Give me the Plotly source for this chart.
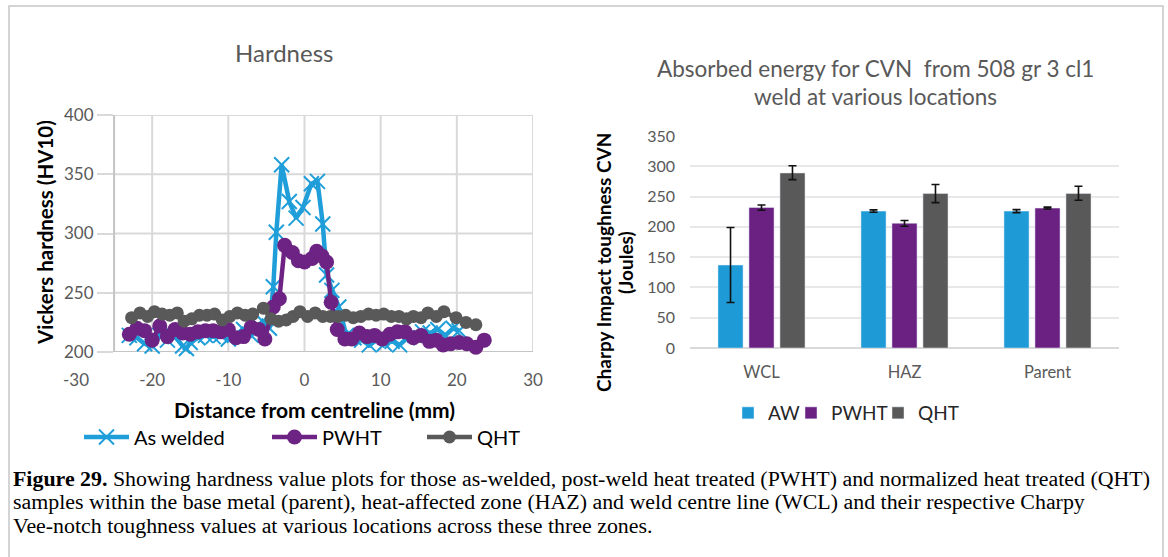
import plotly.graph_objects as go

W, H = 1168, 557

# ---------------- Data: hardness traverse ----------------
aw_x = [-23, -22, -21, -20, -19, -18, -17, -16, -15.5, -15, -14, -13, -12, -11, -10, -9, -8, -7, -6,
        -5.5, -4.6, -4.1, -3.7, -3.0, -2.0, -1.1, -0.2, 0.9, 1.7, 2.4, 2.9, 3.6, 4.5, 5.5, 6.5, 7.5,
        8.5, 9.5, 10.5, 11.5, 12.5, 13.5, 14.5, 15.5, 16.5, 17.5, 18.5, 19.5, 20.3]
aw_y = [214, 212, 207, 205, 214, 210, 213, 205, 203, 208, 212, 214, 213, 214, 211, 215, 219, 214, 222,
        226, 220, 255, 301, 358, 327, 313, 322, 342, 344, 308, 265, 252, 238, 214, 212, 210,
        206, 210, 207, 209, 206, 212, 214, 217, 216, 219, 214, 220, 218]

pw_x = [-23, -22, -21, -20, -19, -18, -17, -16, -15, -14, -13, -12, -11, -10, -9, -8, -7, -6, -5.2,
        -4.1, -3.3, -2.6, -1.6, -0.8, 0, 1.0, 1.6, 2.3, 2.9, 3.5, 4.3, 5.3, 6.2, 7.2, 8.2, 9.2, 10.2,
        11.2, 12.2, 13.2, 14.3, 15.3, 16.4, 17.3, 18.2, 19.2, 20.3, 21.3, 22.5, 23.6]
pw_y = [215, 220, 218, 210, 222, 213, 219, 216, 215, 217, 218, 218, 217, 219, 212, 213, 221, 219, 211,
        238, 245, 290, 284, 277, 276, 279, 285, 281, 276, 242, 219, 211, 211, 216, 213, 214, 211,
        215, 217, 217, 212, 214, 209, 210, 206, 207, 208, 207, 204, 210]

qht_x = [-22.7, -21.6, -20.6, -19.7, -18.7, -17.7, -16.7, -15.8, -14.8, -13.8, -12.8, -11.8, -10.8,
         -9.8, -8.8, -7.8, -6.8, -5.4, -4.4, -3.4, -2.4, -1.5, -0.6, 0.4, 1.4, 2.4, 3.4, 4.4, 5.4,
         6.4, 7.4, 8.4, 9.4, 10.4, 11.4, 12.4, 13.4, 14.3, 15.3, 16.2, 17.3, 18.3, 19.9, 21.2, 22.5]
qht_y = [229, 233, 230, 234, 232, 231, 233, 226, 228, 231, 231, 232, 227, 230, 233, 231, 232, 237,
         228, 226, 227, 230, 234, 230, 233, 230, 230, 230, 231, 229, 230, 232, 231, 232, 230, 230,
         228, 230, 229, 233, 230, 234, 229, 225, 223]

# ---------------- Data: Charpy CVN ----------------
locations = ["WCL", "HAZ", "Parent"]
cvn_aw = [137, 226, 226]
cvn_aw_plus = [62, 2, 2.5]
cvn_aw_minus = [62, 2, 2.5]
cvn_pwht = [232, 206, 231]
cvn_pwht_plus = [4, 4.5, 1.5]
cvn_pwht_minus = [4.5, 5, 1.5]
cvn_qht = [289, 255, 255]
cvn_qht_plus = [12, 15, 12]
cvn_qht_minus = [11, 15, 11]

# axis ticks
hx_ticks = [-30, -20, -10, 0, 10, 20, 30]
hx_ticktext = ["-30", "-20", "-10", "0", "10", "20", "30"]
hy_ticks = [200, 250, 300, 350, 400]
hx_axis_min = -25
cvn_ticks = [0, 50, 100, 150, 200, 250, 300, 350]

BLUE = "#1f9ed9"
PURPLE = "#6c2383"
GREY = "#595959"
GRID = "#d9d9d9"
FONT = "Lato"


def px(x):
    return x / W


def py(y):
    return 1 - y / H


fig = go.Figure()

fig.add_trace(go.Scatter(
    x=aw_x, y=aw_y, name="As welded", mode="lines+markers",
    line=dict(color=BLUE, width=4.5),
    marker=dict(symbol="x-thin", size=15, line=dict(width=2, color=BLUE), color=BLUE),
    cliponaxis=False, xaxis="x", yaxis="y", legend="legend", legendwidth=128))
fig.add_trace(go.Scatter(
    x=pw_x, y=pw_y, name="PWHT", mode="lines+markers",
    line=dict(color=PURPLE, width=4.5),
    marker=dict(symbol="circle", size=15, color=PURPLE),
    cliponaxis=False, xaxis="x", yaxis="y", legend="legend", legendwidth=95))
fig.add_trace(go.Scatter(
    x=qht_x, y=qht_y, name="QHT", mode="lines+markers",
    line=dict(color=GREY, width=4.5),
    marker=dict(symbol="circle", size=13, color=GREY),
    cliponaxis=False, xaxis="x", yaxis="y", legend="legend"))

err = dict(type="data", symmetric=False, color="#111111", thickness=1.6, width=4)
fig.add_trace(go.Bar(x=locations, y=cvn_aw, name="AW", marker_color="#1e9bd7",
                     error_y=dict(err, array=cvn_aw_plus, arrayminus=cvn_aw_minus),
                     xaxis="x2", yaxis="y2", legend="legend2", legendwidth=18))
fig.add_trace(go.Bar(x=locations, y=cvn_pwht, name="PWHT", marker_color="#6b2182",
                     error_y=dict(err, array=cvn_pwht_plus, arrayminus=cvn_pwht_minus),
                     xaxis="x2", yaxis="y2", legend="legend2", legendwidth=42))
fig.add_trace(go.Bar(x=locations, y=cvn_qht, name="QHT", marker_color="#595959",
                     error_y=dict(err, array=cvn_qht_plus, arrayminus=cvn_qht_minus),
                     xaxis="x2", yaxis="y2", legend="legend2"))

shapes = []
# hardness grid
for v in hy_ticks[1:]:
    shapes.append(dict(type="line", xref="x", yref="y", x0=hx_axis_min, x1=hx_ticks[-1], y0=v, y1=v,
                       line=dict(color=GRID, width=2), layer="below"))
for v in hx_ticks:
    if v > hx_axis_min:
        shapes.append(dict(type="line", xref="x", yref="y", x0=v, x1=v, y0=hy_ticks[0], y1=hy_ticks[-1],
                           line=dict(color=GRID, width=2), layer="below"))
shapes.append(dict(type="line", xref="x", yref="y", x0=hx_axis_min, x1=hx_ticks[-1], y0=hy_ticks[0], y1=hy_ticks[0],
                   line=dict(color="#c4c4c4", width=2), layer="below"))
shapes.append(dict(type="line", xref="x", yref="y", x0=hx_axis_min, x1=hx_axis_min, y0=hy_ticks[0], y1=hy_ticks[-1],
                   line=dict(color="#c4c4c4", width=2), layer="below"))
# outer frame
shapes.append(dict(type="rect", xref="paper", yref="paper", x0=px(9), x1=px(1163), y0=-0.05, y1=py(6),
                   line=dict(color="#c6c6c6", width=1.5), layer="below"))

tickfont = dict(family=FONT, size=17, color="#595959")


def ann(text, x, y, size, color, angle=0, family=FONT):
    return dict(text=text, x=px(x), y=py(y), xref="paper", yref="paper", xanchor="center",
                yanchor="middle", showarrow=False, textangle=angle,
                font=dict(family=family, size=size, color=color))


annotations = [
    ann("Hardness", 284, 53, 24, "#595959"),
    ann("<b>Vickers hardness (HV10)</b>", 45, 233, 20.5, "#000000", -90),
    ann("<b>Distance from centreline (mm)</b>", 314, 409, 21, "#000000"),
    ann("Absorbed energy for CVN  from 508 gr 3 cl1", 875, 68, 22.5, "#595959"),
    ann("weld at various locations", 875, 96, 22.5, "#595959"),
    ann("<b>Charpy Impact toughness CVN</b>", 603, 263, 19, "#000000", -90),
    ann("<b>(Joules)</b>", 625, 263, 19, "#000000", -90),
]
caption = [
    "<b>Figure 29.</b> Showing hardness value plots for those as-welded, post-weld heat treated (PWHT) and normalized heat treated (QHT)",
    "samples within the base metal (parent), heat-affected zone (HAZ) and weld centre line (WCL) and their respective Charpy",
    "Vee-notch toughness values at various locations across these three zones.",
]
for i, line in enumerate(caption):
    annotations.append(dict(text=line, x=px(11), y=py(478 + 23.5 * i), xref="paper", yref="paper",
                            xanchor="left", yanchor="middle", showarrow=False,
                            font=dict(family="Liberation Serif", size=21.9, color="#000000")))

fig.update_layout(
    width=W, height=H, autosize=False,
    margin=dict(l=0, r=0, t=0, b=0),
    paper_bgcolor="white", plot_bgcolor="rgba(0,0,0,0)",
    showlegend=True,
    xaxis=dict(domain=[px(76), px(533)], range=[hx_ticks[0], hx_ticks[-1]], tickvals=hx_ticks,
               ticktext=hx_ticktext, showgrid=False, zeroline=False, showline=False, ticks="",
               anchor="y", tickfont=tickfont, ticklabelstandoff=16, automargin=False),
    yaxis=dict(domain=[py(352), py(115)], range=[hy_ticks[0], hy_ticks[-1]], tickvals=hy_ticks,
               anchor="free", position=px(113), showgrid=False, zeroline=False, showline=False,
               ticks="outside", ticklen=16, tickwidth=2, tickcolor=GRID, tickfont=tickfont,
               automargin=False),
    xaxis2=dict(domain=[px(690), px(1119)], anchor="y2", showgrid=False, showline=False, ticks="",
                tickfont=dict(family=FONT, size=16.5, color="#595959"), ticklabelstandoff=12,
                automargin=False),
    yaxis2=dict(domain=[py(348), py(136)], range=[0, 350], tickvals=cvn_ticks, anchor="x2",
                showgrid=True, gridcolor="#e8e8e8", gridwidth=1.5, zeroline=True,
                zerolinecolor="#d9d9d9", zerolinewidth=1.5, showline=False,
                tickfont=dict(family=FONT, size=16, color="#595959"), ticklabelstandoff=14,
                automargin=False),
    barmode="group", bargap=0.35, bargroupgap=0.19,
    legend=dict(orientation="h", x=px(79), y=py(437), xanchor="left", yanchor="middle",
                font=dict(family=FONT, size=20, color="#000000"), bgcolor="rgba(0,0,0,0)",
                itemwidth=45, traceorder="normal"),
    legend2=dict(orientation="h", x=px(728), y=py(413), xanchor="left", yanchor="middle",
                 font=dict(family=FONT, size=19, color="#262626"), bgcolor="rgba(0,0,0,0)",
                 itemwidth=30, traceorder="normal"),
    shapes=shapes, annotations=annotations,
)

fig.write_html("out.html", post_script="document.body.style.margin='0';document.documentElement.style.overflow='hidden';")
